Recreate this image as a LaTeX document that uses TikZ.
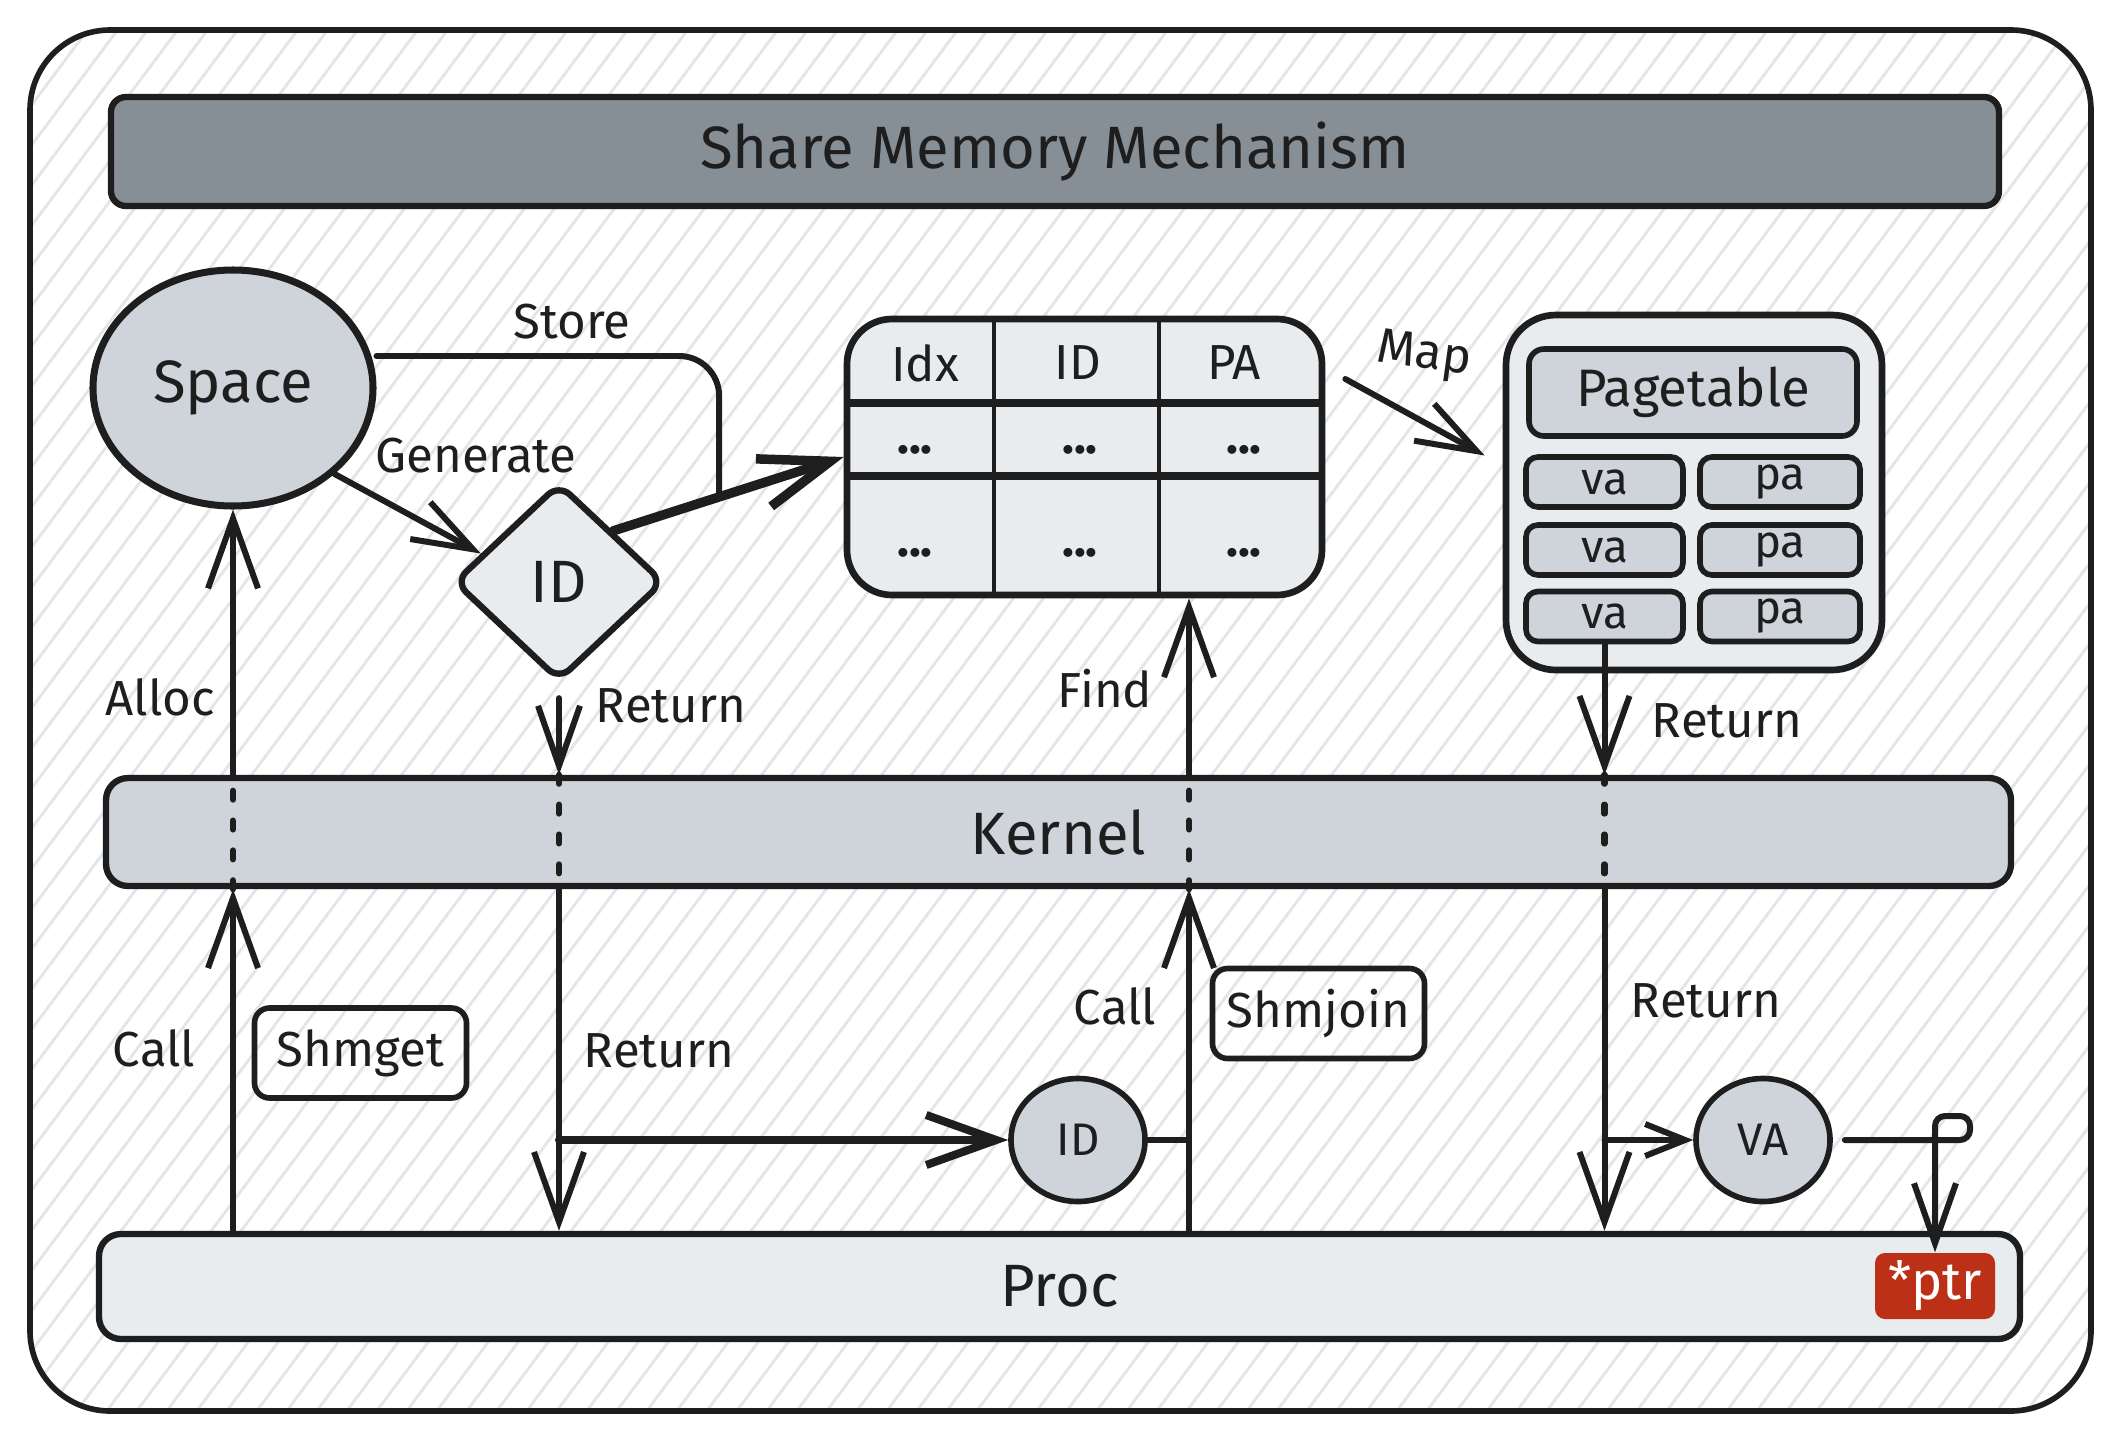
\documentclass[tikz,border=0pt]{standalone}
\usepackage{fontspec}
\setmainfont{Fira Sans}
\usepackage{tikz}
\usetikzlibrary{shapes.geometric,arrows.meta,calc}

\definecolor{ink}{RGB}{30,30,30}
\definecolor{darkgrey}{RGB}{134,142,150}
\definecolor{midgrey}{RGB}{206,212,218}
\definecolor{lightgrey}{RGB}{233,236,239}
\definecolor{hatchgrey}{RGB}{226,230,234}
\definecolor{ptrred}{RGB}{187,48,22}

\tikzset{
	bigfont/.style={font=\fontsize{17}{20}\selectfont},
	lblfont/.style={font=\fontsize{14}{17}\selectfont},
	conn/.style={draw=ink,line width=1.7pt,line cap=round,line join=round},
	bigtip/.style={-{Straight Barb[length=7mm,width=5mm]}},
	midtip/.style={-{Straight Barb[length=6mm,width=4.2mm]}},
	smalltip/.style={-{Straight Barb[length=4mm,width=3.2mm]}},
	dotline/.style={draw=ink,line width=1.8pt,line cap=round,dash pattern=on 2.5pt off 6pt},
	lbl/.style={lblfont,text=ink},
	bar/.style={draw=ink,line width=1.8pt,rounded corners=0.22cm,bigfont,text=ink},
	cell/.style={lblfont,text=ink,inner sep=0pt},
	pcell/.style={draw=ink,fill=midgrey,line width=1.6pt,rounded corners=0.12cm,
		minimum width=1.57cm,minimum height=0.5cm,inner sep=0pt,
		font=\fontsize{13}{15}\selectfont,text=ink},
	callbox/.style={draw=ink,line width=1.6pt,rounded corners=0.15cm,
		minimum width=2.12cm,minimum height=0.9cm,
		font=\fontsize{14}{17}\selectfont,text=ink},
	smallball/.style={shape=ellipse,draw=ink,fill=midgrey,line width=1.6pt,
		minimum width=1.34cm,minimum height=1.23cm,inner sep=0pt,
		font=\fontsize{13}{15}\selectfont,text=ink}
}

\begin{document}
\begin{tikzpicture}[x=1cm,y=-1cm]

		\useasboundingbox (0,0) rectangle (21.21,14.40);
		\fill[white] (0,0) rectangle (21.21,14.40);
		\begin{scope}
			\clip[rounded corners=0.8cm] (0.30,0.30) rectangle (20.91,14.11);
			\foreach \hx in {-11.0,-10.7,...,21.0}
				\draw[hatchgrey,line width=0.8pt] (\hx,14.2) -- ++(10.6,-14.2);
		\end{scope}
		\draw[ink,line width=1.6pt,rounded corners=0.8cm] (0.30,0.30) rectangle (20.91,14.11);

		\node[bar,fill=darkgrey,minimum width=18.88cm,minimum height=1.09cm,rounded corners=0.15cm] (title) at (10.55,1.515) {Share Memory Mechanism};

		\node[shape=ellipse,draw=ink,fill=midgrey,line width=2pt,minimum width=2.80cm,
			minimum height=2.36cm,bigfont,text=ink] (space) at (2.33,3.88) {Space};
		\node[shape=diamond,draw=ink,fill=lightgrey,line width=1.8pt,minimum width=2.10cm,
			minimum height=1.98cm,inner sep=0pt,rounded corners=0.15cm,bigfont,text=ink] (gid) at (5.59,5.82) {ID};

		\node[draw=ink,fill=lightgrey,line width=1.9pt,rounded corners=0.45cm,
			minimum width=4.75cm,minimum height=2.76cm] (table) at (10.845,4.57) {};
		\coordinate (c1) at (9.94,4.57);
		\coordinate (c2) at (11.59,4.57);
		\coordinate (r1) at (10.845,4.03);
		\coordinate (r2) at (10.845,4.76);
		\draw[ink,line width=1.4pt] (c1 |- table.north) -- (c1 |- table.south);
		\draw[ink,line width=1.4pt] (c2 |- table.north) -- (c2 |- table.south);
		\draw[ink,line width=2.3pt] (r1 -| table.west) -- (r1 -| table.east);
		\draw[ink,line width=2.3pt] (r2 -| table.west) -- (r2 -| table.east);
		\node[cell] (hidx) at (9.25,3.63) {Idx};
		\node[cell] (hid)  at (10.78,3.63) {ID};
		\node[cell] (hpa)  at (12.34,3.63) {PA};
		\foreach \col/\cx in {1/9.15,2/10.80,3/12.44} {
			\node[cell] (ra\col) at (\cx,4.50) {\bfseries ...};
			\node[cell] (rb\col) at (\cx,5.53) {\bfseries ...};
		}

		\node[draw=ink,fill=lightgrey,line width=1.9pt,rounded corners=0.5cm,
			minimum width=3.76cm,minimum height=3.55cm] (ptable) at (16.94,4.925) {};
		\node[pcell,minimum width=3.28cm,minimum height=0.87cm,rounded corners=0.15cm,
			font=\fontsize{15}{18}\selectfont] (phead) at (16.93,3.925) {Pagetable};
		\foreach \r/\ry in {1/4.82,2/5.50,3/6.165} {
			\node[pcell] (va\r) at (16.045,\ry) {va};
			\node[pcell,minimum width=1.60cm] (pa\r) at (17.80,\ry) {pa};
		}

		\node[bar,fill=midgrey,minimum width=19.05cm,minimum height=1.08cm] (kernel) at (10.585,8.32) {Kernel};
		\node[bar,fill=lightgrey,minimum width=19.21cm,minimum height=1.05cm] (proc) at (10.595,12.865) {Proc};

		\node[callbox] (shmget) at (3.605,10.53) {Shmget};
		\node[callbox] (shmjoin) at (13.185,10.135) {Shmjoin};
		\node[smallball] (bid) at (10.78,11.40) {ID};
		\node[smallball] (vaout) at (17.63,11.40) {VA};
		\node[fill=ptrred,rounded corners=0.1cm,minimum width=1.20cm,minimum height=0.66cm,
			inner sep=0pt,text=white,font=\fontsize{15}{18}\selectfont] (ptr) at (19.35,12.86) {*ptr};

		\coordinate (join) at ($(gid.north east)!0.46!(table.west)$);
		\coordinate (fx) at (11.89,8.32);

		\path (space.south east) edge[conn,midtip] (gid.160);
		\path (gid.north east) edge[conn,bigtip,line width=2.7pt] (table.west);
		\draw[conn,rounded corners=0.4cm] ([yshift=0.32cm]space.east) -| (join);
		\path ([xshift=0.2cm,yshift=0.78cm]table.east) edge[conn,midtip] ([xshift=-0.18cm,yshift=0.37cm]ptable.west);

		\path (space.south |- proc.north) edge[conn,bigtip] (space.south |- kernel.south);
		\path (space.south |- kernel.south) edge[dotline] (space.south |- kernel.north);
		\path (space.south |- kernel.north) edge[conn,bigtip] (space.south);

		\path ([yshift=-0.14cm]gid.south) edge[conn,midtip] (gid.south |- kernel.north);
		\path (gid.south |- kernel.north) edge[dotline] (gid.south |- kernel.south);
		\path (gid.south |- kernel.south) edge[conn,bigtip] (gid.south |- proc.north);
		\path (gid.south |- bid.west) edge[conn,bigtip,line width=2.3pt] (bid.west);

		\path (fx |- proc.north) edge[conn,bigtip] (fx |- kernel.south);
		\path (fx |- kernel.south) edge[dotline] (fx |- kernel.north);
		\path (fx |- kernel.north) edge[conn,bigtip] (fx |- table.south);
		\path (bid.east) edge[conn] (fx |- bid.east);

		\path (va3.south) edge[conn,bigtip] (va3.south |- kernel.north);
		\path (va3.south |- kernel.north) edge[dotline] (va3.south |- kernel.south);
		\path (va3.south |- kernel.south) edge[conn,bigtip] (va3.south |- proc.north);
		\path (va3.south |- vaout.west) edge[conn,smalltip] (vaout.west);
		\draw[conn,midtip,rounded corners=0.1cm] ([xshift=0.12cm]vaout.east) -- (19.70,11.40) -- (19.70,11.16)
			-- (ptr.north |- 0,11.16) -- (ptr.north);

		\node[lbl] (lstore) at (5.72,3.22) {Store};
		\node[lbl] (lgen) at (4.76,4.56) {Generate};
		\node[lbl] (lalloc) at (1.60,6.97) {Alloc};
		\node[lbl] (lret1) at (6.71,7.06) {Return};
		\node[lbl] (lfind) at (11.05,6.89) {Find};
		\node[lbl,rotate=-8] (lmap) at (14.24,3.56) {Map};
		\node[lbl] (lret2) at (17.27,7.21) {Return};
		\node[lbl] (lcall1) at (1.54,10.48) {Call};
		\node[lbl] (lret3) at (6.59,10.51) {Return};
		\node[lbl] (lcall2) at (11.15,10.06) {Call};
		\node[lbl] (lret4) at (17.06,10.01) {Return};
\end{tikzpicture}
\end{document}
